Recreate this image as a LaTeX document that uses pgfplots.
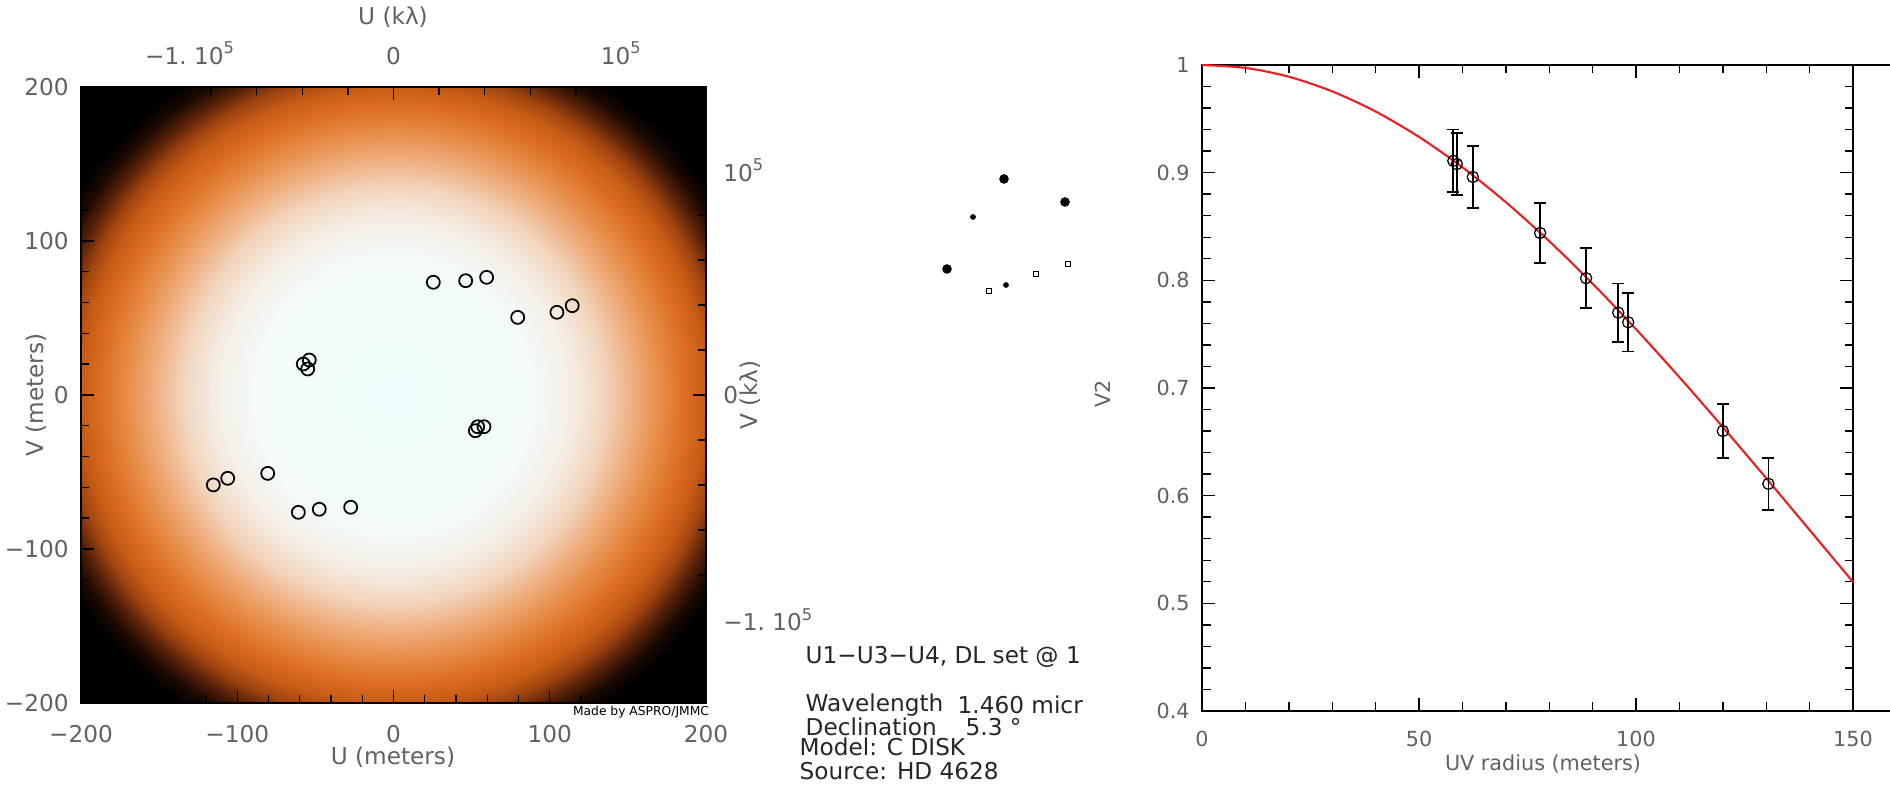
\documentclass[border=0pt]{standalone}
\usepackage{pgfplots}
\pgfplotsset{compat=1.18}
\usepackage{fontspec}
\setmainfont{DejaVu Sans}
\definecolor{lbl}{gray}{0.38}
\definecolor{c0}{HTML}{EFFFFF}
\definecolor{c1}{HTML}{F3FAF8}
\definecolor{c2}{HTML}{F5EDE4}
\definecolor{c3}{HTML}{F2D4BC}
\definecolor{c4}{HTML}{EEAA78}
\definecolor{c5}{HTML}{E68A44}
\definecolor{c6}{HTML}{DC6C22}
\definecolor{c7}{HTML}{C85C16}
\definecolor{c8}{HTML}{A04410}
\definecolor{c9}{HTML}{5A2208}
\definecolor{c10}{HTML}{1E0A02}
\definecolor{curve}{HTML}{E82020}
\pgfdeclareradialshading{uvdisk}{\pgfpoint{0bp}{0bp}}{%
 color(0bp)=(c0); color(11.25bp)=(c1); color(14.4bp)=(c2); color(16.9bp)=(c3);
 color(19.4bp)=(c4); color(21.5bp)=(c5); color(23.5bp)=(c6); color(25bp)=(c7);
 color(26.3bp)=(c8); color(27.6bp)=(c9); color(28.9bp)=(c10);
 color(30.2bp)=(black); color(50bp)=(black)}
\newcommand\fa{\fontsize{6.6}{7.5}\selectfont}
\newcommand\fb{\fontsize{5.9}{7}\selectfont}
\newcommand\fc{\fontsize{6.6}{7.5}\selectfont}
\begin{document}
\begin{tikzpicture}
\useasboundingbox (0,0) rectangle (189mm,79.2mm);
% ---------- left: uv plane in meters ----------
\begin{axis}[
  at={(8.1mm,8.9mm)}, anchor=south west, scale only axis,
  width=62.5mm, height=61.6mm,
  xmin=-200, xmax=200, ymin=-200, ymax=200,
  axis on top,
  xtick={-200,-100,0,100,200}, xticklabels={−200,−100,0,100,200},
  ytick={-200,-100,0,100,200}, yticklabels={−200,−100,0,100,200},
  minor xtick={-180,-160,...,180}, minor ytick={-180,-160,...,180},
  xtick pos=bottom, ytick pos=left, tick align=inside,
  major tick length=1.3mm, minor tick length=0.8mm,
  tick style={black, line width=0.4pt},
  axis line style={black, line width=0.4pt},
  ticklabel style={font=\fa, text=lbl},
  xticklabel style={yshift=-1mm},
]
\shade[shading=uvdisk] (axis cs:-200,-200) rectangle (axis cs:200,200);
\addplot[only marks, mark=o, mark size=1.85pt, mark options={line width=0.5pt}, black] table {
x y
25.5 73.2
46.2 74.2
59.6 76.4
79.5 50.4
104.6 53.7
114.4 58.0
-27.4 -72.9
-47.5 -74.2
-60.9 -76.2
-80.5 -50.9
-106.1 -54.1
-115.3 -58.4
-57.7 20.1
-53.9 22.7
-54.9 16.9
57.9 -20.6
53.9 -20.6
52.4 -23.2
};
\end{axis}
% ---------- left: k-lambda axes ----------
\begin{axis}[
  at={(8.1mm,8.9mm)}, anchor=south west, scale only axis,
  width=62.5mm, height=61.6mm,
  xmin=-136986, xmax=136986, ymin=-136986, ymax=136986,
  scaled ticks=false,
  xtick={-100000,0,100000}, ytick={-100000,0,100000},
  xticklabels={{\hspace{5mm}−1.\ 10\textsuperscript{5}},0,10\textsuperscript{5}},
  yticklabels={−1.\ 10\textsuperscript{5},0,10\textsuperscript{5}},
  minor xtick={-120000,-80000,-60000,-40000,-20000,20000,40000,60000,80000,120000},
  minor ytick={-120000,-80000,-60000,-40000,-20000,20000,40000,60000,80000,120000},
  xtick pos=top, ytick pos=right, tick align=inside,
  major tick length=1.3mm, minor tick length=0.8mm,
  tick style={black, line width=0.4pt},
  axis line style={black, line width=0.4pt},
  ticklabel style={font=\fa, text=lbl},
  xticklabel style={yshift=1mm},
  yticklabel style={xshift=0.5mm},
]
\end{axis}
% ---------- right: V2 vs uv radius ----------
\begin{axis}[
  at={(120.2mm,8.1mm)}, anchor=south west, scale only axis,
  width=65.1mm, height=64.6mm,
  xmin=0, xmax=150, ymin=0.4, ymax=1,
  xtick={0,50,100,150}, xticklabels={0,50,100,150}, minor x tick num=4,
  ytick={0.4,0.5,0.6,0.7,0.8,0.9,1}, yticklabels={0.4,0.5,0.6,0.7,0.8,0.9,1},
  minor y tick num=4,
  xtick pos=both, ytick pos=both, tick align=inside,
  major tick length=1.3mm, minor tick length=0.85mm,
  tick style={black, line width=0.4pt},
  axis line style={black, line width=0.5pt},
  ticklabel style={font=\fb, text=lbl},
  xticklabel style={yshift=-0.8mm},
]
\addplot[curve, line width=0.6pt, smooth] coordinates {
(0,1) (10,0.9973) (20,0.9891) (30,0.9755) (40,0.9568) (50,0.9332)
(60,0.9050) (70,0.8726) (80,0.8364) (90,0.7969) (100,0.7546)
(110,0.7100) (120,0.6637) (130,0.6162) (140,0.5681) (150,0.5198)};
\addplot[black, only marks, mark=o, mark size=1.6pt,
  mark options={line width=0.35pt, solid},
  error bars/.cd, y dir=both, y explicit,
  error bar style={line width=0.5pt, solid},
  error mark options={rotate=90, line width=0.5pt, mark size=1.7pt, solid}]
 table[x=x, y=y, y error=e] {
x y e
57.9 0.911 0.029
58.7 0.908 0.029
62.4 0.896 0.029
77.9 0.844 0.028
88.5 0.802 0.028
95.9 0.770 0.027
98.2 0.761 0.027
120.0 0.660 0.025
130.5 0.611 0.024
};
\end{axis}
% ---------- overlay in picture pixels ----------
\begin{axis}[
  at={(0,0)}, anchor=south west, scale only axis,
  width=189mm, height=79.2mm,
  xmin=0, xmax=1890, ymin=0, ymax=792, y dir=reverse,
  hide axis, clip=false,
]
\addplot[black, only marks, mark=*, mark size=1.15pt] coordinates {(1004,179) (1065,202) (947,269)};
\addplot[black, only marks, mark=*, mark size=0.6pt] coordinates {(973,217) (1006,285)};
\addplot[black, only marks, mark=square, mark size=0.75pt, mark options={line width=0.45pt}] coordinates {(1068,264) (1036,274) (989,291)};
\addplot[black, line width=0.4pt] coordinates {(1853,65) (1890,65)};
\addplot[black, line width=0.4pt] coordinates {(1853,711) (1890,711)};
\node[font=\fa, text=lbl] at (axis cs:393,17) {U (kλ)};
\node[font=\fa, text=lbl] at (axis cs:393,757) {U (meters)};
\node[font=\fa, text=lbl, rotate=90] at (axis cs:36,395) {V (meters)};
\node[font=\fa, text=lbl, rotate=90] at (axis cs:750,395) {V (kλ)};
\node[font=\fontsize{3.5}{4}\selectfont, text=black] at (axis cs:641,712) {Made by ASPRO/JMMC};
\node[font=\fb, text=lbl] at (axis cs:1543,764) {UV radius (meters)};
\node[font=\fb, text=lbl, rotate=90] at (axis cs:1103,394) {V2};
\node[font=\fc, text=black!85, anchor=west, inner sep=0pt] at (axis cs:805,657) {U1−U3−U4, DL set @ 1};
\node[font=\fc, text=black!85, anchor=west, inner sep=0pt] at (axis cs:805,705) {Wavelength};
\node[font=\fc, text=black!85, anchor=west, inner sep=0pt] at (axis cs:957,705) {1.460 micr};
\node[font=\fc, text=black!85, anchor=west, inner sep=0pt] at (axis cs:805,727) {Declination};
\node[font=\fc, text=black!85, anchor=west, inner sep=0pt] at (axis cs:965,727) {5.3 °};
\node[font=\fc, text=black!85, anchor=west, inner sep=0pt] at (axis cs:799,747) {Model: C DISK};
\node[font=\fc, text=black!85, anchor=west, inner sep=0pt] at (axis cs:799,771) {Source: HD 4628};
\end{axis}
\end{tikzpicture}
\end{document}
